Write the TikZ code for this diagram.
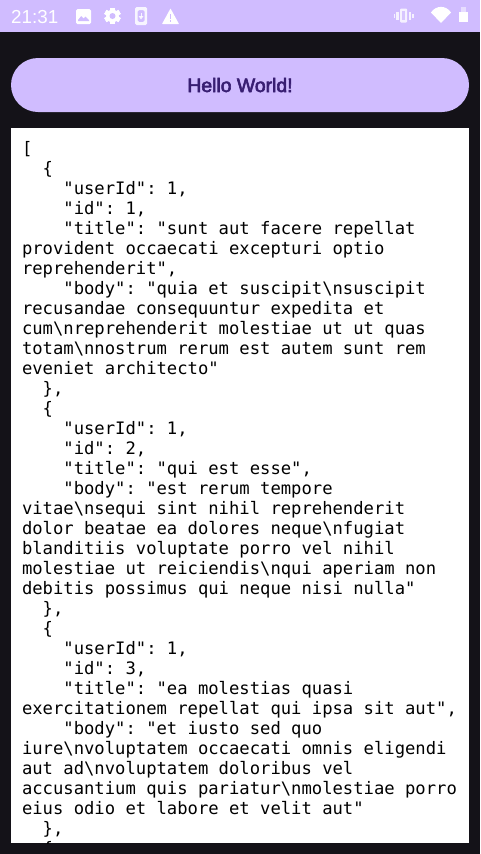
\documentclass[tikz,border=0pt]{standalone}
\usepackage{fontspec}
\newfontfamily\codefont{DejaVu Sans Mono}
\newfontfamily\uifont{Liberation Sans}
\newfontfamily\btnfont[FakeBold=3]{Liberation Sans}
\definecolor{barpurple}{HTML}{D0BCFF}
\definecolor{screenbg}{HTML}{141218}
\definecolor{btntext}{HTML}{381E72}
\tikzset{
  code/.style={anchor=base west,inner sep=0pt,outer sep=0pt,text=black,font=\codefont\fontsize{17.2}{20}\selectfont\frenchspacing},
  icon/.style={fill=white,draw=none},
  bar/.style={fill=barpurple,draw=none},
}
\newcommand{\bs}{\textbackslash}
\begin{document}
\begin{tikzpicture}[x=1pt,y=-1pt]
\useasboundingbox (0,0) rectangle (480,854);
\fill[screenbg] (0,0) rectangle (480,854);
\fill[barpurple] (0,0) rectangle (480,32);
% status bar, left
\node[anchor=base west,inner sep=0pt,text=white,font=\uifont\fontsize{18.8}{20}\selectfont] (time) at (11,23) {21:31};
% image icon
\fill[icon,rounded corners=1.5pt] (76,9) rectangle (91,24);
\fill[bar] (78,21) -- (78,20) -- (81.2,16) -- (83.5,18.5) -- (85.5,16.5) -- (89,20) -- (89,21) -- cycle;
% gear icon
\foreach \a in {0,60,...,300}{
  \fill[icon,rotate around={\a:(112.5,16)}] (110.2,7.8) rectangle (114.8,24.2);
}
\fill[icon] (112.5,16) circle (6.4);
\fill[bar] (112.5,16) circle (3);
% phone icon
\begin{scope}[opacity=0.85]
\fill[icon,rounded corners=1.5pt,even odd rule] (135,7) rectangle (147,25) (137.5,10) rectangle (144.5,22);
\draw[white,line width=1pt] (141,12.5) -- (141,17);
\fill[icon] (138.5,16) -- (143.5,16) -- (141,19.5) -- cycle;
\end{scope}
% warning icon
\fill[icon,rounded corners=0.5pt] (170.5,8.5) -- (179,24) -- (162,24) -- cycle;
\fill[bar] (169.7,14) rectangle (171.3,19);
\fill[bar] (169.7,20) rectangle (171.3,22);
% status bar, right
\begin{scope}[opacity=0.8]
\fill[icon,rounded corners=1pt] (400,8.5) rectangle (407,22.5);
\fill[bar] (401.8,11) rectangle (405.2,20);
\fill[icon] (396,11.5) rectangle (398.5,19.5);
\fill[icon] (408.5,11.5) rectangle (411,19.5);
\fill[icon] (393.5,13.5) rectangle (395,17.5);
\fill[icon] (412,13.5) rectangle (413.5,17.5);
\end{scope}
\fill[icon] (431,12.5) .. controls (436,5) and (446,5) .. (451,12.5) -- (441,23) -- cycle;
\fill[white,opacity=0.5] (461,7) rectangle (466,12);
\fill[icon] (459,12) rectangle (468,22);
% button
\fill[barpurple,rounded corners=27pt] (11,58) rectangle (469,112);
\node[anchor=base,inner sep=0pt,text=btntext,font=\btnfont\fontsize{19.4}{20}\selectfont] (btn) at (240,92) {Hello World!};
% text area
\fill[white] (11,128) rectangle (469,843);
\begin{scope}
\clip (11,128) rectangle (469,843);
\node[code] (l0) at (22,154) {[};
\node[code] (l1) at (22,174) {\ \ \{};
\node[code] (l2) at (22,194) {\ \ \ \ "userId": 1,};
\node[code] (l3) at (22,214) {\ \ \ \ "id": 1,};
\node[code] (l4) at (22,234) {\ \ \ \ "title": "sunt aut facere repellat};
\node[code] (l5) at (22,254) {provident occaecati excepturi optio};
\node[code] (l6) at (22,274) {reprehenderit",};
\node[code] (l7) at (22,294) {\ \ \ \ "body": "quia et suscipit\bs nsuscipit};
\node[code] (l8) at (22,314) {recusandae consequuntur expedita et};
\node[code] (l9) at (22,334) {cum\bs nreprehenderit molestiae ut ut quas};
\node[code] (l10) at (22,354) {totam\bs nnostrum rerum est autem sunt rem};
\node[code] (l11) at (22,374) {eveniet architecto"};
\node[code] (l12) at (22,394) {\ \ \},};
\node[code] (l13) at (22,414) {\ \ \{};
\node[code] (l14) at (22,434) {\ \ \ \ "userId": 1,};
\node[code] (l15) at (22,454) {\ \ \ \ "id": 2,};
\node[code] (l16) at (22,474) {\ \ \ \ "title": "qui est esse",};
\node[code] (l17) at (22,494) {\ \ \ \ "body": "est rerum tempore};
\node[code] (l18) at (22,514) {vitae\bs nsequi sint nihil reprehenderit};
\node[code] (l19) at (22,534) {dolor beatae ea dolores neque\bs nfugiat};
\node[code] (l20) at (22,554) {blanditiis voluptate porro vel nihil};
\node[code] (l21) at (22,574) {molestiae ut reiciendis\bs nqui aperiam non};
\node[code] (l22) at (22,594) {debitis possimus qui neque nisi nulla"};
\node[code] (l23) at (22,614) {\ \ \},};
\node[code] (l24) at (22,634) {\ \ \{};
\node[code] (l25) at (22,654) {\ \ \ \ "userId": 1,};
\node[code] (l26) at (22,674) {\ \ \ \ "id": 3,};
\node[code] (l27) at (22,694) {\ \ \ \ "title": "ea molestias quasi};
\node[code] (l28) at (22,714) {exercitationem repellat qui ipsa sit aut",};
\node[code] (l29) at (22,734) {\ \ \ \ "body": "et iusto sed quo};
\node[code] (l30) at (22,754) {iure\bs nvoluptatem occaecati omnis eligendi};
\node[code] (l31) at (22,774) {aut ad\bs nvoluptatem doloribus vel};
\node[code] (l32) at (22,794) {accusantium quis pariatur\bs nmolestiae porro};
\node[code] (l33) at (22,814) {eius odio et labore et velit aut"};
\node[code] (l34) at (22,834) {\ \ \},};
\node[code] (l35) at (22,854) {\ \ \{};
\end{scope}
\end{tikzpicture}
\end{document}
